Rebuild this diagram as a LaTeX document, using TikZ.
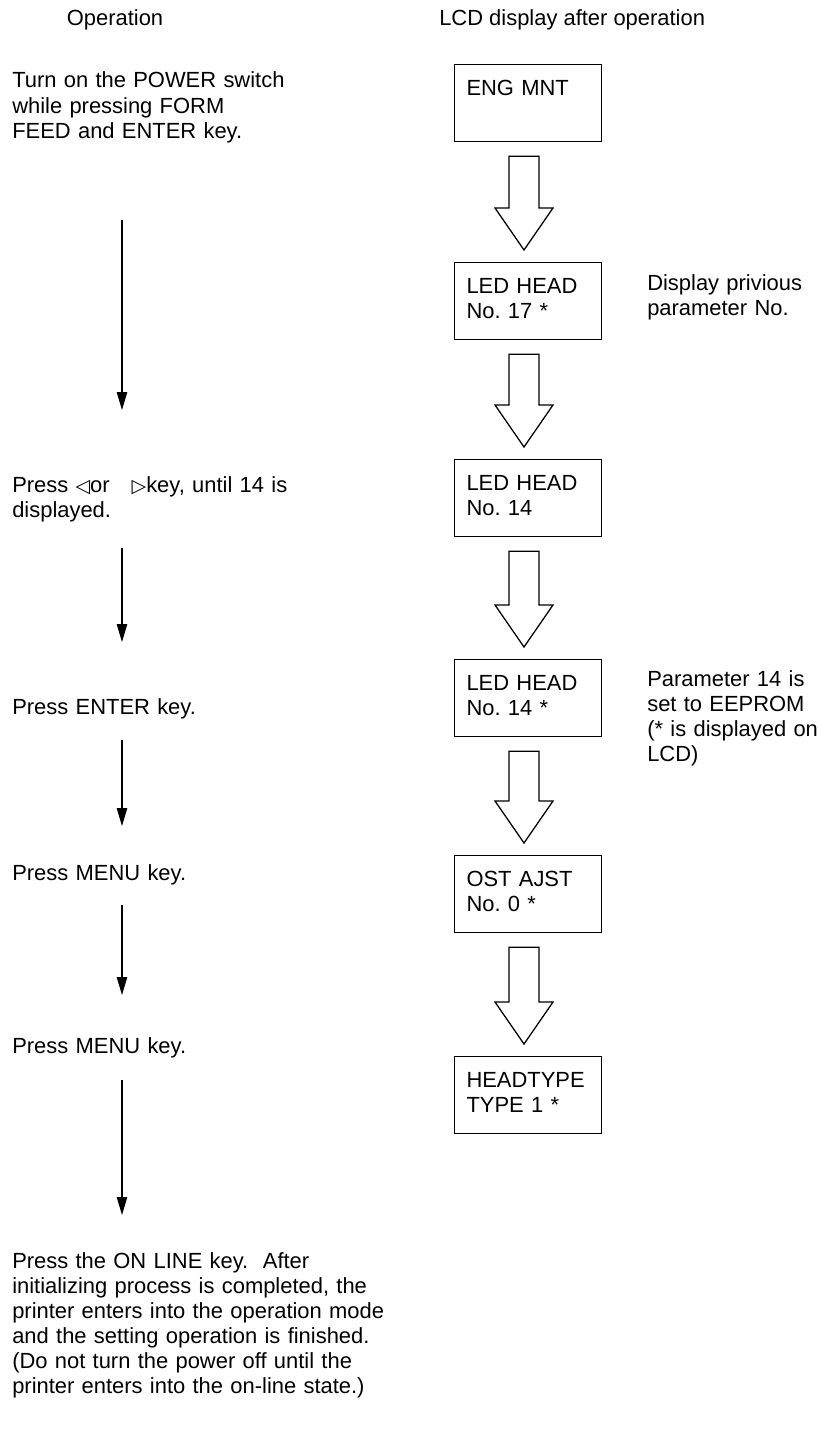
\documentclass[tikz,border=0pt]{standalone}
\usepackage{fontspec}
\setmainfont{Liberation Sans}
\newfontfamily\symfont{DejaVu Sans}
\usetikzlibrary{arrows.meta,calc}

\begin{document}
\begin{tikzpicture}[
  font=\fontsize{15.6pt}{17.8pt}\selectfont\frenchspacing,
  lcd/.style={draw,line width=0.9pt,anchor=north,text width=3.075cm,inner xsep=0.3cm,
    inner ysep=0pt,text height=0.775cm,text depth=1.15cm,align=left},
  txt/.style={anchor=base west,inner sep=0pt,text width=10cm,align=left},
  note/.style={txt,text width=5cm},
  ar/.style={-{Triangle[length=4.5mm,width=2.6mm]},line width=0.9pt},
  hol/.style={line width=0.9pt,line join=miter}]

 \useasboundingbox (0,0) rectangle (20.425,-35.825);

 % ---- headings ----
 \node[anchor=base,inner sep=0pt] (hop) at (2.875,-0.65) {Operation};
 \node[anchor=base west,inner sep=0pt] (hlcd) at (10.975,-0.65) {LCD display after operation};

 % ---- operation column ----
 \node[txt] (t1) at (0.3,-2.2) {Turn on the POWER switch\\while pressing FORM\\FEED and ENTER key.};
 \node[txt] (t2) at (0.3,-12.3) {Press {\symfont\fontsize{13.5pt}{13.5pt}\selectfont ◁}or\ \ \ {\symfont\fontsize{13.5pt}{13.5pt}\selectfont ▷}key, until 14 is\\displayed.};
 \node[txt] (t3) at (0.3,-17.85) {Press ENTER key.};
 \node[txt] (t4) at (0.3,-22.0) {Press MENU key.};
 \node[txt] (t5) at (0.3,-26.325) {Press MENU key.};
 \node[txt] (t6) at (0.3,-31.7) {Press the ON LINE key.\ \ After\\initializing process is completed, the\\printer enters into the operation mode\\and the setting operation is finished.\\(Do not turn the power off until the\\printer enters into the on-line state.)};

 \coordinate (d1) at (3.05,-5.5);    \coordinate (d1e) at (3.05,-10.25);
 \coordinate (d2) at (3.05,-13.7);   \coordinate (d2e) at (3.05,-16.05);
 \coordinate (d3) at (3.05,-18.5);   \coordinate (d3e) at (3.05,-20.65);
 \coordinate (d4) at (3.05,-22.625); \coordinate (d4e) at (3.05,-24.875);
 \coordinate (d5) at (3.05,-27.0);   \coordinate (d5e) at (3.05,-30.375);
 \draw[ar] (d1) -- (d1e);
 \draw[ar] (d2) -- (d2e);
 \draw[ar] (d3) -- (d3e);
 \draw[ar] (d4) -- (d4e);
 \draw[ar] (d5) -- (d5e);

 % ---- LCD column ----
 \node[lcd] (b1) at (13.2,-1.6) {ENG MNT};
 \node[lcd] (b2) at (13.2,-6.55) {LED HEAD\\No. 17 *};
 \node[lcd] (b3) at (13.2,-11.475) {LED HEAD\\No. 14};
 \node[lcd] (b4) at (13.2,-16.475) {LED HEAD\\No. 14 *};
 \node[lcd] (b5) at (13.2,-21.375) {OST AJST\\No. 0 *};
 \node[lcd] (b6) at (13.2,-26.4) {HEADTYPE\\TYPE 1 *};

 \foreach \a/\b in {b1/b2,b2/b3,b3/b4,b4/b5,b5/b6}
   \draw[hol] ($(\a.south)+(-0.475,-0.35)$) -- ($(\b.north)+(-0.475,1.35)$)
     -- ($(\b.north)+(-0.825,1.35)$) -- ($(\b.north)+(-0.1,0.3)$)
     -- ($(\b.north)+(0.625,1.35)$) -- ($(\b.north)+(0.275,1.35)$)
     -- ($(\a.south)+(0.275,-0.35)$) -- cycle;

 \node[note] (n1) at (16.175,-7.25) {Display privious\\parameter No.};
 \node[note] (n2) at (16.175,-17.15) {Parameter 14 is\\set to EEPROM\\(* is displayed on\\LCD)};
\end{tikzpicture}
\end{document}
